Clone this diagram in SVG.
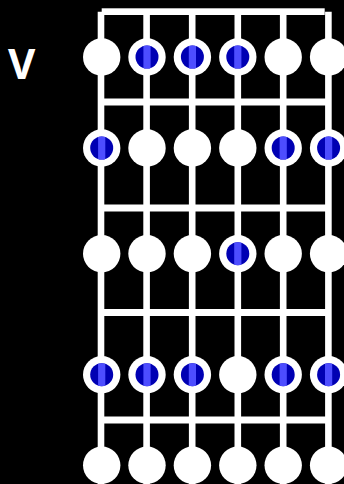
<svg xmlns="http://www.w3.org/2000/svg" xmlns:xlink="http://www.w3.org/1999/xlink" width="344" height="484" viewBox="0 0 344 484">
  <style>
    .str { stroke: #ffffff; stroke-width: 6.6; fill: none; }
    .fret { stroke: #ffffff; stroke-width: 7; fill: none; }
    .pos { fill: #ffffff; }
    .lbl { font-family: "Open Sans", "DejaVu Sans", "Liberation Sans", sans-serif; font-weight: bold; font-size: 42px; fill: #ffffff; }
  </style>
  <defs>
    <clipPath id="dc"><circle cx="0" cy="0" r="11.5"/></clipPath>
    <g id="dot">
      <circle cx="0" cy="0" r="11.5" fill="#0000b3"/>
      <rect x="-3.6" y="-12" width="7.2" height="24" fill="#4d4dff" clip-path="url(#dc)"/>
    </g>
  </defs>
  <rect x="0" y="0" width="344" height="484" fill="#000000"/>
  <text id="label" class="lbl" x="21.7" y="79.3" text-anchor="middle">V</text>
  <g id="connectors">
    <rect x="101.7" y="8.3" width="223" height="6.7" fill="#ffffff"/>
    <line class="str" x1="101" y1="11.7" x2="101" y2="484"/>
    <line class="str" x1="146.6" y1="11.7" x2="146.6" y2="484"/>
    <line class="str" x1="192.2" y1="11.7" x2="192.2" y2="484"/>
    <line class="str" x1="237.8" y1="11.7" x2="237.8" y2="484"/>
    <line class="str" x1="283.2" y1="11.7" x2="283.2" y2="484"/>
    <line class="str" x1="328.4" y1="11.7" x2="328.4" y2="484"/>
    <line class="fret" x1="101" y1="102" x2="328.4" y2="102"/>
    <line class="fret" x1="101" y1="208" x2="328.4" y2="208"/>
    <line class="fret" x1="101" y1="312.5" x2="328.4" y2="312.5"/>
    <line class="fret" x1="101" y1="420" x2="328.4" y2="420"/>
  </g>
  <!-- row 1 -->
  <g id="r1s1"><circle class="pos" cx="101.7" cy="57" r="18.7"/></g>
  <g id="r1s2"><circle class="pos" cx="147" cy="57" r="18.7"/><use xlink:href="#dot" href="#dot" x="147" y="57"/></g>
  <g id="r1s3"><circle class="pos" cx="192.4" cy="57" r="18.7"/><use xlink:href="#dot" href="#dot" x="192.4" y="57"/></g>
  <g id="r1s4"><circle class="pos" cx="237.8" cy="57" r="18.7"/><use xlink:href="#dot" href="#dot" x="237.8" y="57"/></g>
  <g id="r1s5"><circle class="pos" cx="283.2" cy="57" r="18.7"/></g>
  <g id="r1s6"><circle class="pos" cx="328.6" cy="57" r="18.7"/></g>
  <!-- row 2 -->
  <g id="r2s1"><circle class="pos" cx="101.7" cy="148" r="18.7"/><use xlink:href="#dot" href="#dot" x="101.7" y="148"/></g>
  <g id="r2s2"><circle class="pos" cx="147" cy="148" r="18.7"/></g>
  <g id="r2s3"><circle class="pos" cx="192.4" cy="148" r="18.7"/></g>
  <g id="r2s4"><circle class="pos" cx="237.8" cy="148" r="18.7"/></g>
  <g id="r2s5"><circle class="pos" cx="283.2" cy="148" r="18.7"/><use xlink:href="#dot" href="#dot" x="283.2" y="148"/></g>
  <g id="r2s6"><circle class="pos" cx="328.6" cy="148" r="18.7"/><use xlink:href="#dot" href="#dot" x="328.6" y="148"/></g>
  <!-- row 3 -->
  <g id="r3s1"><circle class="pos" cx="101.7" cy="253.7" r="18.7"/></g>
  <g id="r3s2"><circle class="pos" cx="147" cy="253.7" r="18.7"/></g>
  <g id="r3s3"><circle class="pos" cx="192.4" cy="253.7" r="18.7"/></g>
  <g id="r3s4"><circle class="pos" cx="237.8" cy="253.7" r="18.7"/><use xlink:href="#dot" href="#dot" x="237.8" y="253.7"/></g>
  <g id="r3s5"><circle class="pos" cx="283.2" cy="253.7" r="18.7"/></g>
  <g id="r3s6"><circle class="pos" cx="328.6" cy="253.7" r="18.7"/></g>
  <!-- row 4 -->
  <g id="r4s1"><circle class="pos" cx="101.7" cy="374.7" r="18.7"/><use xlink:href="#dot" href="#dot" x="101.7" y="374.7"/></g>
  <g id="r4s2"><circle class="pos" cx="147" cy="374.7" r="18.7"/><use xlink:href="#dot" href="#dot" x="147" y="374.7"/></g>
  <g id="r4s3"><circle class="pos" cx="192.4" cy="374.7" r="18.7"/><use xlink:href="#dot" href="#dot" x="192.4" y="374.7"/></g>
  <g id="r4s4"><circle class="pos" cx="237.8" cy="374.7" r="18.7"/></g>
  <g id="r4s5"><circle class="pos" cx="283.2" cy="374.7" r="18.7"/><use xlink:href="#dot" href="#dot" x="283.2" y="374.7"/></g>
  <g id="r4s6"><circle class="pos" cx="328.6" cy="374.7" r="18.7"/><use xlink:href="#dot" href="#dot" x="328.6" y="374.7"/></g>
  <!-- row 5 -->
  <g id="r5s1"><circle class="pos" cx="101.7" cy="465.3" r="18.7"/></g>
  <g id="r5s2"><circle class="pos" cx="147" cy="465.3" r="18.7"/></g>
  <g id="r5s3"><circle class="pos" cx="192.4" cy="465.3" r="18.7"/></g>
  <g id="r5s4"><circle class="pos" cx="237.8" cy="465.3" r="18.7"/></g>
  <g id="r5s5"><circle class="pos" cx="283.2" cy="465.3" r="18.7"/></g>
  <g id="r5s6"><circle class="pos" cx="328.6" cy="465.3" r="18.7"/></g>
</svg>
